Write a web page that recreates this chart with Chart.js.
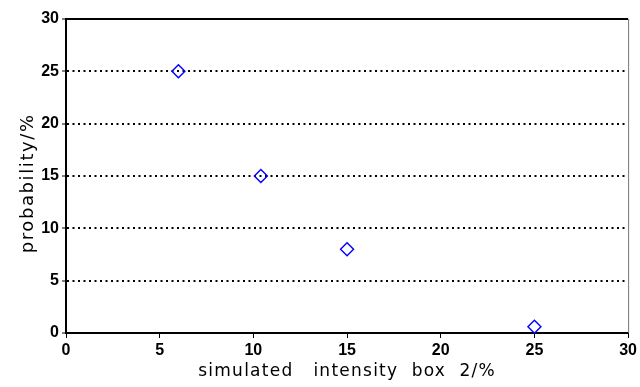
<!DOCTYPE html>
<html>
<head>
<meta charset="utf-8">
<script src="https://cdn.jsdelivr.net/npm/chart.js@4"></script>
<style>
  html, body { margin: 0; padding: 0; background: #fff; }
  #wrap { width: 640px; height: 387px; }
</style>
</head>
<body>
<div id="wrap"><canvas id="c" width="640" height="387"></canvas></div>
<script>
// Measured probability versus simulated intensity in box 2
const intensity = [6, 10.4, 15, 25];
const probability = [25, 15, 8, 0.6];
const xTitle = 'simulated   intensity  box  2/%';
const yTitle = 'probability/%  ';
const axisMin = 0, axisMax = 30, axisStep = 5;

const tickFont = { family: 'Liberation Sans', size: 16, weight: 'bold' };
const xTitleFont = { family: 'DejaVu Sans', size: 17 };
const yTitleFont = { family: 'DejaVu Sans', size: 18 };

// axis titles are set with a little extra tracking
const titleSpacing = { x: '1.25px', y: '1.6px' };
const tracking = {
  id: 'tracking',
  afterLayout(chart) {
    Object.keys(titleSpacing).forEach(id => {
      const s = chart.scales[id];
      if (!s || s._tracked) return;
      const draw = s.drawTitle;
      s.drawTitle = function () {
        this.ctx.save();
        this.ctx.letterSpacing = titleSpacing[id];
        draw.apply(this, arguments);
        this.ctx.restore();
      };
      s._tracked = true;
    });
  }
};

// closes the plot box with a heavy top edge and a light right edge
const frame = {
  id: 'frame',
  afterDraw(chart) {
    const { ctx, chartArea: a } = chart;
    ctx.save();
    ctx.strokeStyle = '#000';
    ctx.lineWidth = 2;
    ctx.beginPath();
    ctx.moveTo(a.left - 1, a.top);
    ctx.lineTo(a.right, a.top);
    ctx.stroke();
    ctx.strokeStyle = '#777';
    ctx.lineWidth = 1;
    ctx.beginPath();
    ctx.moveTo(a.right + 0.5, a.top);
    ctx.lineTo(a.right + 0.5, a.bottom);
    ctx.stroke();
    ctx.restore();
  }
};

new Chart(document.getElementById('c'), {
  type: 'scatter',
  data: {
    datasets: [{
      data: intensity.map((x, i) => ({ x, y: probability[i] })),
      pointStyle: 'rectRot',
      pointRadius: 6.5,
      pointHoverRadius: 6.5,
      borderColor: '#0000ff',
      backgroundColor: 'rgba(0,0,0,0)',
      pointBorderWidth: 1.4,
      clip: false
    }]
  },
  options: {
    responsive: false,
    animation: false,
    events: [],
    layout: { padding: { top: 19, right: 11, left: 0, bottom: 0 } },
    plugins: { legend: { display: false }, tooltip: { enabled: false } },
    scales: {
      x: {
        type: 'linear',
        min: axisMin, max: axisMax,
        ticks: { stepSize: axisStep, color: '#000', font: tickFont, padding: 3, maxRotation: 0 },
        grid: { drawOnChartArea: false, drawTicks: true, tickLength: 5, tickColor: '#000', tickWidth: 1 },
        border: { display: true, color: '#000', width: 2 },
        title: { display: true, text: xTitle, color: '#000', font: xTitleFont, padding: { top: 0, bottom: 5 } },
        afterFit(s) { s.height = 54; }
      },
      y: {
        type: 'linear',
        min: axisMin, max: axisMax,
        ticks: { stepSize: axisStep, color: '#000', font: tickFont, padding: 3 },
        grid: {
          drawOnChartArea: true,
          drawTicks: true,
          tickLength: 4,
          tickColor: '#000',
          tickWidth: 1,
          lineWidth: 2,
          color: ctx => (ctx.tick && (ctx.tick.value === axisMin || ctx.tick.value === axisMax)) ? 'rgba(0,0,0,0)' : '#000'
        },
        border: { display: true, color: '#000', width: 2, dash: [2, 3.5] },
        title: { display: true, text: yTitle, color: '#000', font: yTitleFont, padding: { top: 18, bottom: 0 } },
        afterFit(s) { s.width = 66; }
      }
    }
  },
  plugins: [tracking, frame]
});
</script>
</body>
</html>
